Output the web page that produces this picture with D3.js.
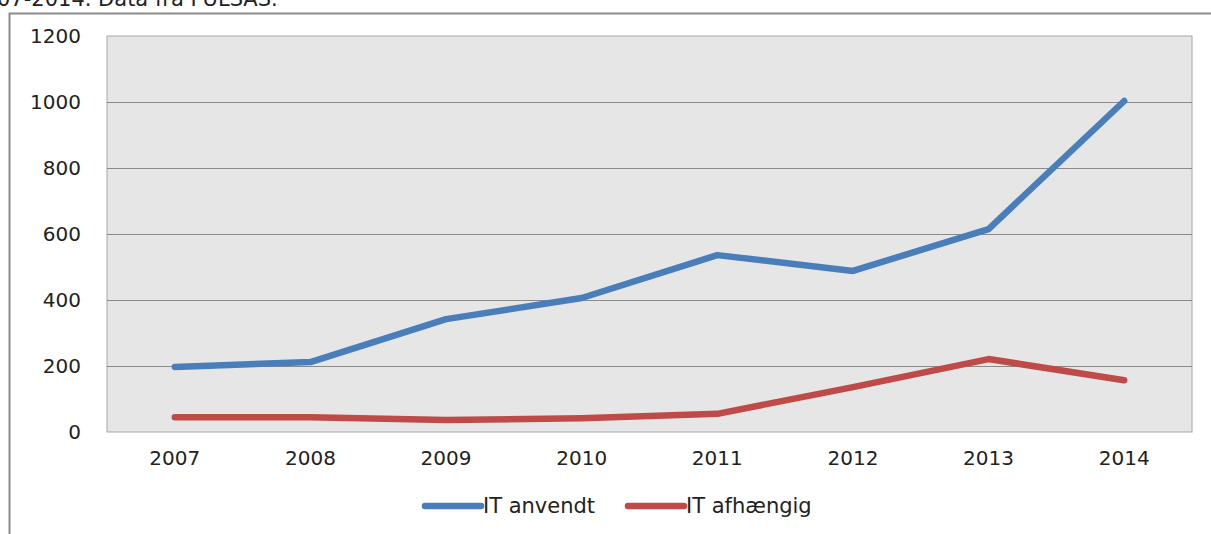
<!DOCTYPE html>
<html>
<head>
<meta charset="utf-8">
<script src="https://cdn.jsdelivr.net/npm/d3@7"></script>
<style>
  body { margin: 0; background: #fff; }
  svg { display: block; }
  text { font-family: "DejaVu Sans", sans-serif; fill: #222; }
</style>
</head>
<body>
<svg class="chart"></svg>
<script>
let width = 1211;
let height = 534;

// Data
let years = ["2007", "2008", "2009", "2010", "2011", "2012", "2013", "2014"];
let itAnvendt = [197, 212, 342, 406, 536, 488, 615, 1003];
let itAfhaengig = [45, 45, 36, 42, 55, 136, 221, 157];
let yTicks = [0, 200, 400, 600, 800, 1000, 1200];

let series = [
  { name: "IT anvendt", values: itAnvendt, color: "#4A7EBB" },
  { name: "IT afhængig", values: itAfhaengig, color: "#BE4B48" }
];

let margin = { left: 107, right: 19, top: 36, bottom: 102 };

let svg = d3.select(".chart")
  .attr("width", width)
  .attr("height", height);

// caption cut off at the top
svg.append("text")
  .attr("x", -3)
  .attr("y", 6)
  .style("font-size", "21px")
  .text("07-2014. Data fra FULSAS.");

// outer frame (only left and top visible)
svg.append("path")
  .attr("d", "M9.5," + height + "V13.5H" + width)
  .attr("fill", "none")
  .attr("stroke", "#8c8c8c")
  .attr("stroke-width", 2);

let x = d3.scaleBand()
  .domain(years)
  .range([margin.left, width - margin.right]);

let y = d3.scaleLinear()
  .domain([0, 1200])
  .range([height - margin.bottom, margin.top]);

// plot background
svg.append("rect")
  .attr("x", margin.left)
  .attr("y", margin.top)
  .attr("width", width - margin.left - margin.right)
  .attr("height", height - margin.top - margin.bottom)
  .attr("fill", "#e6e6e6")
  .attr("stroke", "#a6a6a6")
  .attr("stroke-width", 1);

// gridlines
svg.append("g")
  .selectAll("line")
  .data(yTicks.slice(1, -1))
  .enter().append("line")
  .attr("x1", margin.left)
  .attr("x2", width - margin.right)
  .attr("y1", function(d) { return Math.round(y(d)) + 0.5; })
  .attr("y2", function(d) { return Math.round(y(d)) + 0.5; })
  .attr("stroke", "#8a8a8a")
  .attr("stroke-width", 1);

// y axis labels
let yAxis = svg.append("g")
  .attr("transform", "translate(" + (margin.left - 26) + ",0)")
  .call(d3.axisLeft(y).tickValues(yTicks).tickFormat(d3.format("d")).tickSize(0).tickPadding(0));
yAxis.select(".domain").remove();
yAxis.selectAll("text")
  .style("font-size", "20px")
  .style("font-family", "'DejaVu Sans', sans-serif")
  .attr("fill", "#222");

// x axis labels
let xAxis = svg.append("g")
  .attr("transform", "translate(0," + (height - margin.bottom + 19) + ")")
  .call(d3.axisBottom(x).tickSize(0).tickPadding(0));
xAxis.select(".domain").remove();
xAxis.selectAll("text")
  .style("font-size", "20px")
  .style("font-family", "'DejaVu Sans', sans-serif")
  .attr("fill", "#222");

let line = d3.line()
  .x(function(d, i) { return x(years[i]) + x.bandwidth() / 2; })
  .y(function(d) { return y(d); });

svg.append("g")
  .selectAll("path")
  .data(series)
  .enter().append("path")
  .attr("d", function(d) { return line(d.values); })
  .attr("fill", "none")
  .attr("stroke", function(d) { return d.color; })
  .attr("stroke-width", 6.5)
  .attr("stroke-linecap", "round")
  .attr("stroke-linejoin", "round");

// legend
let legendX = [425, 628];
let legend = svg.append("g")
  .selectAll("g")
  .data(series)
  .enter().append("g")
  .attr("transform", function(d, i) { return "translate(" + legendX[i] + ",506)"; });

legend.append("line")
  .attr("x1", 0)
  .attr("x2", 56)
  .attr("stroke", function(d) { return d.color; })
  .attr("stroke-width", 6.5)
  .attr("stroke-linecap", "round");

legend.append("text")
  .attr("x", 58)
  .attr("y", 7)
  .style("font-size", "21px")
  .text(function(d) { return d.name; });
</script>
</body>
</html>
